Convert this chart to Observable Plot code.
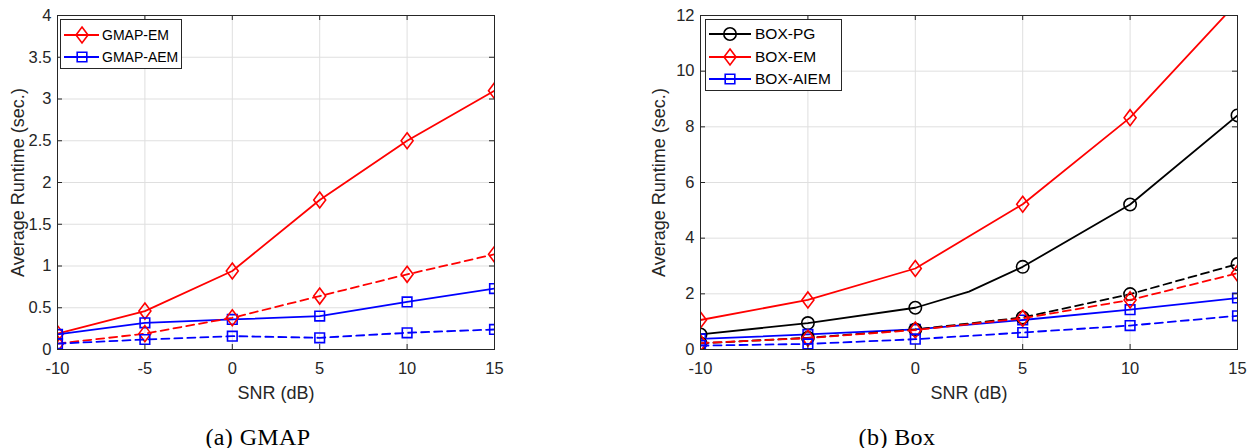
<!DOCTYPE html>
<html><head><meta charset="utf-8">
<script src="https://cdn.jsdelivr.net/npm/d3@7"></script>
<script src="https://cdn.jsdelivr.net/npm/@observablehq/plot@0.6"></script>
<style>
body{margin:0;background:#fff;width:1250px;height:448px;position:relative;overflow:hidden;font-family:"Liberation Sans",Arial,sans-serif}
.panel{position:absolute;top:0}
.caption{position:absolute;top:425px;line-height:24px;font-family:"Liberation Serif","Times New Roman",serif;font-size:24px;letter-spacing:0.4px;transform:translateX(-50%);white-space:nowrap;color:#000}
.legend{position:absolute}
</style></head><body>
<div id="a" class="panel" style="left:0"></div>
<div id="b" class="panel" style="left:620px"></div>
<div id="legA" class="legend" style="left:60px;top:19px"></div>
<div id="legB" class="legend" style="left:705px;top:19px"></div>
<div class="caption" style="left:258px">(a) GMAP</div>
<div class="caption" style="left:897px">(b) Box</div>
<script>
// ---------- data ----------
const snr = [-10, -5, 0, 5, 10, 15];
const snrPG = [-10, -5, 0, 2.5, 5, 10, 15];
const xTicks = [-10, -5, 0, 5, 10, 15];
const yTicksA = [0, 0.5, 1, 1.5, 2, 2.5, 3, 3.5, 4];
const yTicksB = [0, 2, 4, 6, 8, 10, 12];

// (a) GMAP
const gmapEM      = [0.19, 0.46, 0.94, 1.79, 2.50, 3.10];
const gmapEMdash  = [0.07, 0.19, 0.38, 0.64, 0.90, 1.14];
const gmapAEM     = [0.18, 0.32, 0.36, 0.40, 0.57, 0.73];
const gmapAEMdash = [0.07, 0.12, 0.16, 0.14, 0.20, 0.24];

// (b) Box
const boxPG       = [0.54, 0.95, 1.50, 2.08, 2.97, 5.21, 8.41];
const boxEM       = [1.06, 1.78, 2.91, 5.22, 8.33, 12.48];
const boxAIEM     = [0.38, 0.54, 0.72, 1.06, 1.43, 1.85];
const boxPGdash   = [0.22, 0.42, 0.72, 1.15, 1.99, 3.07];
const boxEMdash   = [0.23, 0.41, 0.70, 1.12, 1.78, 2.74];
const boxAIEMdash = [0.14, 0.20, 0.37, 0.61, 0.86, 1.21];

// ---------- styles ----------
const RED = "#ff0000", BLUE = "#0000ff", BLACK = "#000000", AX = "#262626", GRID = "#dfdfdf";
const shapes = {
  diamond: {draw(c, s) { const r = Math.sqrt(s / Math.PI); c.moveTo(0, -r); c.lineTo(r * 0.75, 0); c.lineTo(0, r); c.lineTo(-r * 0.75, 0); c.closePath(); }},
  square:  {draw(c, s) { const r = Math.sqrt(s / Math.PI); c.rect(-r, -r, 2 * r, 2 * r); }},
  circle:  {draw(c, s) { const r = Math.sqrt(s / Math.PI); c.moveTo(r, 0); c.arc(0, 0, r, 0, 2 * Math.PI); }}
};
const markerR = {diamond: 8, square: 4.8, circle: 6.2};

function build(xs, ys, name, color, shape, dashed) {
  return {rows: xs.map((x, i) => ({x, y: ys[i]})), name, color, shape, dashed};
}

const seriesA = [
  build(snr, gmapEM, "GMAP-EM", RED, "diamond", false),
  build(snr, gmapAEM, "GMAP-AEM", BLUE, "square", false),
  build(snr, gmapEMdash, null, RED, "diamond", true),
  build(snr, gmapAEMdash, null, BLUE, "square", true)
];
const seriesB = [
  build(snrPG, boxPG, "BOX-PG", BLACK, "circle", false),
  build(snr, boxEM, "BOX-EM", RED, "diamond", false),
  build(snr, boxAIEM, "BOX-AIEM", BLUE, "square", false),
  build(snr, boxPGdash, null, BLACK, "circle", true),
  build(snr, boxEMdash, null, RED, "diamond", true),
  build(snr, boxAIEMdash, null, BLUE, "square", true)
];

function panel({series, yDomain, yTicks, width, ml, mr, yLabelDx}) {
  const height = 448, mt = 15, mb = 99;
  const xDomain = [-10, 15];
  const plotH = height - mt - mb, plotW = width - ml - mr, tl = 5;
  const ty = (yDomain[1] - yDomain[0]) * tl / plotH;
  const tx = (xDomain[1] - xDomain[0]) * tl / plotW;
  const marks = [
    Plot.gridX(xTicks, {stroke: GRID, strokeOpacity: 1}),
    Plot.gridY(yTicks, {stroke: GRID, strokeOpacity: 1})
  ];
  for (const s of series) {
    marks.push(Plot.line(s.rows, {x: "x", y: "y", stroke: s.color, strokeWidth: 1.8,
      strokeDasharray: s.dashed ? "8,5" : null, clip: true}));
    marks.push(Plot.dot(s.rows.filter(d => d.x % 5 === 0), {x: "x", y: "y", symbol: shapes[s.shape],
      r: markerR[s.shape], stroke: s.color, fill: "none", strokeWidth: 1.6, clip: true}));
  }
  marks.push(
    Plot.ruleX(xTicks, {x: d => d, y1: yDomain[0], y2: yDomain[0] + ty, stroke: AX}),
    Plot.ruleX(xTicks, {x: d => d, y1: yDomain[1] - ty, y2: yDomain[1], stroke: AX}),
    Plot.ruleY(yTicks, {y: d => d, x1: xDomain[0], x2: xDomain[0] + tx, stroke: AX}),
    Plot.ruleY(yTicks, {y: d => d, x1: xDomain[1] - tx, x2: xDomain[1], stroke: AX}),
    Plot.frame({stroke: AX, strokeWidth: 1}),
    Plot.axisX({ticks: xTicks, tickSize: 0, tickPadding: 13, fontSize: 16.5, fill: AX, label: null, tickFormat: d => String(d)}),
    Plot.axisY({ticks: yTicks, tickSize: 0, tickPadding: 6, fontSize: 16.5, fill: AX, label: null, tickFormat: d => String(d)}),
    Plot.text(["SNR (dB)"], {frameAnchor: "bottom", dy: 44, textAnchor: "middle", lineAnchor: "middle", fontSize: 18, fill: AX}),
    Plot.text(["Average Runtime (sec.)"], {frameAnchor: "left", dx: yLabelDx, rotate: -90, textAnchor: "middle", lineAnchor: "middle", fontSize: 18, fill: AX})
  );
  return Plot.plot({
    width, height, marginTop: mt, marginBottom: mb, marginLeft: ml, marginRight: mr,
    x: {domain: xDomain}, y: {domain: yDomain},
    style: {fontFamily: "'Liberation Sans', Arial, sans-serif", background: "transparent", color: AX},
    marks
  });
}

document.getElementById("a").append(panel({series: seriesA, yDomain: [0, 4], yTicks: yTicksA, width: 620, ml: 57, mr: 126, yLabelDx: -39}));
document.getElementById("b").append(panel({series: seriesB, yDomain: [0, 12], yTicks: yTicksB, width: 630, ml: 80, mr: 13, yLabelDx: -41}));

function legend(id, series, {w, h, rowY, x0, x1, xm, xt, fs}) {
  const items = series.filter(s => s.name);
  const svg = d3.select("#" + id).append("svg").attr("width", w).attr("height", h);
  svg.append("rect").attr("x", 0.5).attr("y", 0.5).attr("width", w - 1).attr("height", h - 1)
    .attr("fill", "#fff").attr("stroke", AX).attr("stroke-width", 1);
  items.forEach((s, i) => {
    const y = rowY[i];
    svg.append("line").attr("x1", x0).attr("x2", x1).attr("y1", y).attr("y2", y)
      .attr("stroke", s.color).attr("stroke-width", 1.8);
    const r = markerR[s.shape];
    svg.append("path").attr("d", d3.symbol().type(shapes[s.shape]).size(r * r * Math.PI)())
      .attr("transform", `translate(${xm},${y})`).attr("fill", "none").attr("stroke", s.color).attr("stroke-width", 1.6);
    svg.append("text").attr("x", xt).attr("y", y).attr("dy", "0.35em").attr("font-size", fs)
      .attr("font-family", "'Liberation Sans', Arial, sans-serif").attr("fill", "#000").text(s.name);
  });
}
legend("legA", seriesA, {w: 122, h: 50, rowY: [16, 38], x0: 4, x1: 39, xm: 22, xt: 42, fs: 14});
legend("legB", seriesB, {w: 137, h: 72, rowY: [15, 38, 60], x0: 4, x1: 46, xm: 25, xt: 50, fs: 15.5});
</script>
</body></html>
